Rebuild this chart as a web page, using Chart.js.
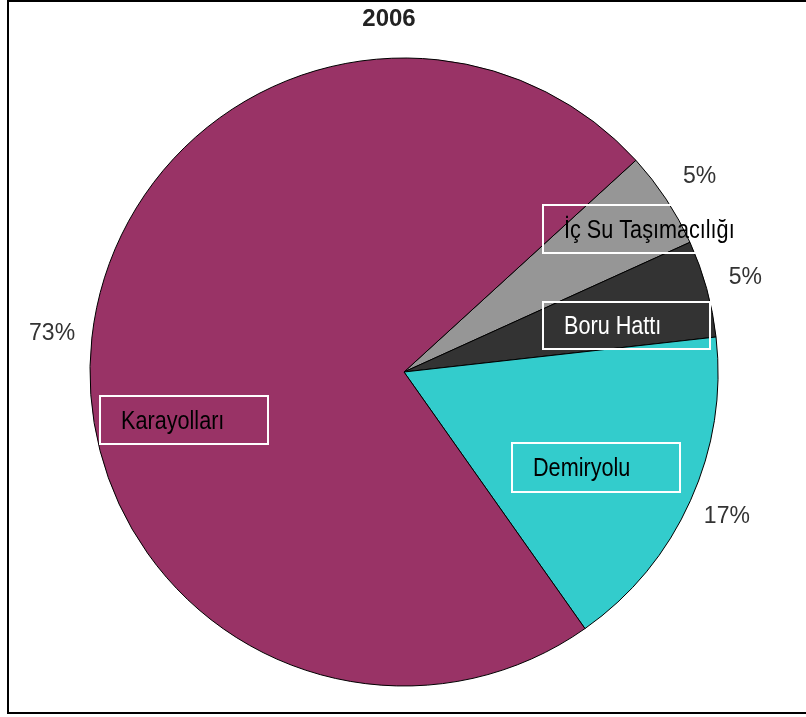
<!DOCTYPE html>
<html>
<head>
<meta charset="utf-8">
<title>2006</title>
<script src="https://cdn.jsdelivr.net/npm/chart.js@4"></script>
<style>
  html, body { margin: 0; padding: 0; background: #fff; overflow: hidden; }
  #wrap { position: relative; width: 806px; height: 717px; }
  #frame { position: absolute; left: 7px; top: 0; width: 900px; height: 714px; border: 2px solid #000; box-sizing: border-box; }
  #pie { position: absolute; left: 0; top: 0; }
</style>
</head>
<body>
<div id="wrap">
  <div id="frame"></div>
  <canvas id="pie" width="806" height="717"></canvas>
</div>
<script>
// transport modes and their shares, clockwise from the upper right
const categories = ['İç Su Taşımacılığı', 'Boru Hattı', 'Demiryolu', 'Karayolları'];
const shares = [5, 5, 17, 73];
const sliceColors = ['#969696', '#333333', '#33cccc', '#993366'];
const chartTitle = '2006';

// name boxes, placed relative to the pie centre
const nameBoxes = [
  { x: 139, y: -167, w: 155, h: 48, ink: '#000' },
  { x: 139, y: -70, w: 167, h: 47, ink: '#fff' },
  { x: 108, y: 71, w: 168, h: 49, ink: '#000' },
  { x: -304, y: 24, w: 168, h: 48, ink: '#000' }
];

// percentages outside the pie, names in boxes, title on top
const sliceLabels = {
  id: 'sliceLabels',
  afterDatasetsDraw(chart) {
    const ctx = chart.ctx;
    const meta = chart.getDatasetMeta(0);
    const total = shares.reduce((a, b) => a + b, 0);
    ctx.save();
    meta.data.forEach((arc, i) => {
      const { x, y, startAngle, endAngle, outerRadius } =
        arc.getProps(['x', 'y', 'startAngle', 'endAngle', 'outerRadius'], true);
      const mid = (startAngle + endAngle) / 2;
      const r = outerRadius + 40;
      ctx.font = '23px "Liberation Sans", Arial, sans-serif';
      ctx.fillStyle = '#333';
      ctx.textAlign = 'center';
      ctx.textBaseline = 'middle';
      ctx.fillText(Math.round(shares[i] / total * 100) + '%', x + Math.cos(mid) * r, y + Math.sin(mid) * r);

      const b = nameBoxes[i];
      ctx.strokeStyle = '#fff';
      ctx.lineWidth = 2;
      ctx.strokeRect(x + b.x, y + b.y, b.w, b.h);
      ctx.save();
      ctx.translate(x + b.x + 21, y + b.y + b.h / 2 + 2);
      ctx.scale(0.865, 1);
      ctx.font = '25px "Liberation Sans", Arial, sans-serif';
      ctx.textAlign = 'left';
      ctx.fillStyle = b.ink;
      ctx.fillText(categories[i], 0, 0);
      ctx.restore();
    });
    ctx.font = 'bold 24px "Liberation Sans", Arial, sans-serif';
    ctx.fillStyle = '#222';
    ctx.textAlign = 'center';
    ctx.textBaseline = 'middle';
    ctx.fillText(chartTitle, 389, 19);
    ctx.restore();
  }
};

new Chart(document.getElementById('pie').getContext('2d'), {
  type: 'pie',
  data: {
    labels: categories,
    datasets: [{
      data: shares,
      backgroundColor: sliceColors,
      borderColor: '#000',
      borderWidth: 1,
      radius: 314
    }]
  },
  options: {
    responsive: false,
    animation: false,
    events: [],
    rotation: 47.6,
    layout: { padding: { top: 40, bottom: 13, left: 10, right: 8 } },
    plugins: {
      legend: { display: false },
      tooltip: { enabled: false },
      title: { display: false }
    }
  },
  plugins: [sliceLabels]
});
</script>
</body>
</html>
